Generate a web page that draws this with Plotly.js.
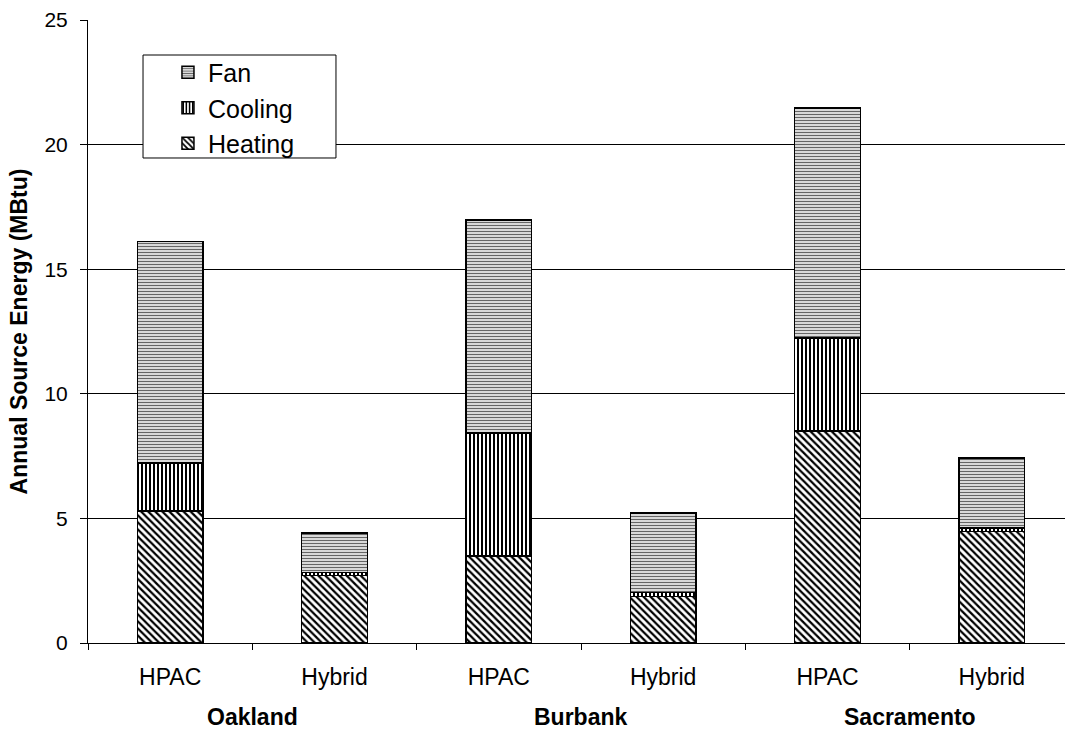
<!DOCTYPE html>
<html>
<head>
<meta charset="utf-8">
<script src="https://cdn.plot.ly/plotly-3.0.1.min.js"></script>
<style>html,body{margin:0;padding:0;overflow:hidden;background:#fff;}#chart{width:1090px;height:736px;}</style>
</head>
<body>
<div id="chart"></div>
<script>
const categories = ["Oakland HPAC","Oakland Hybrid","Burbank HPAC","Burbank Hybrid","Sacramento HPAC","Sacramento Hybrid"];
const tickLabels = ["HPAC","Hybrid","HPAC","Hybrid","HPAC","Hybrid"];
const cities = ["Oakland","Burbank","Sacramento"];
const heating = [5.3, 2.7, 3.5, 1.87, 8.5, 4.47];
const cooling = [1.92, 0.12, 4.93, 0.15, 3.74, 0.15];
const fan = [8.9, 1.6, 8.55, 3.2, 9.23, 2.8];

const FONT = 'Liberation Sans, Arial, sans-serif';
const line = {color:'#000', width:1.5};
const traces = [
  {name:'Heating', x:categories, y:heating, type:'bar',
   marker:{color:'#fff', line:line, pattern:{shape:'\\', fgcolor:'#000', bgcolor:'#fff', size:5, solidity:0.45}}},
  {name:'Cooling', x:categories, y:cooling, type:'bar',
   marker:{color:'#fff', line:line, pattern:{shape:'|', fgcolor:'#000', bgcolor:'#fff', size:4, solidity:0.5}}},
  {name:'Fan', x:categories, y:fan, type:'bar',
   marker:{color:'#fff', line:line, pattern:{shape:'-', fgcolor:'#666', bgcolor:'#fff', size:3, solidity:0.5}}}
];

const annotations = cities.map((c,i)=>({
  text:'<b>'+c+'</b>', x:2*i+0.5, xref:'x', y:-0.118, yref:'paper', yanchor:'middle',
  showarrow:false, font:{family:FONT, size:23, color:'#000'}
}));

const layout = {
  width:1090, height:736,
  margin:{l:88, r:16, t:20, b:93},
  barmode:'stack', bargap:0.6,
  paper_bgcolor:'#fff', plot_bgcolor:'#fff',
  font:{family:FONT, size:22, color:'#000'},
  showlegend:true,
  legend:{x:0.0811, y:0.8587, xanchor:'left', yanchor:'middle', traceorder:'reversed',
    bgcolor:'rgba(0,0,0,0)', borderwidth:0,
    font:{size:25, color:'#000'}, itemwidth:30, tracegroupgap:0},
  shapes:[{type:'rect', xref:'paper', yref:'paper', x0:0.0558, x1:0.2515, y0:0.7785, y1:0.9438,
    line:{color:'#000', width:1}, fillcolor:'#fff', layer:'above'}],
  xaxis:{type:'category', tickmode:'array', tickvals:categories, ticktext:tickLabels,
    tickson:'boundaries', ticks:'outside', ticklen:6, tickcolor:'#000',
    showline:true, linecolor:'#000', linewidth:1, showgrid:false,
    ticklabelstandoff:13, tickfont:{size:23}},
  yaxis:{range:[0,25], dtick:5, ticks:'outside', ticklen:7, tickcolor:'#000',
    showline:true, linecolor:'#000', linewidth:1,
    showgrid:true, gridcolor:'#000', gridwidth:1, zeroline:false,
    tickfont:{size:21}, ticklabelstandoff:8,
    title:{text:'<b>Annual Source Energy (MBtu)</b>', font:{size:23}, standoff:10}},
  annotations:annotations
};
Plotly.newPlot('chart', traces, layout, {displayModeBar:false, staticPlot:true});
</script>
</body>
</html>
